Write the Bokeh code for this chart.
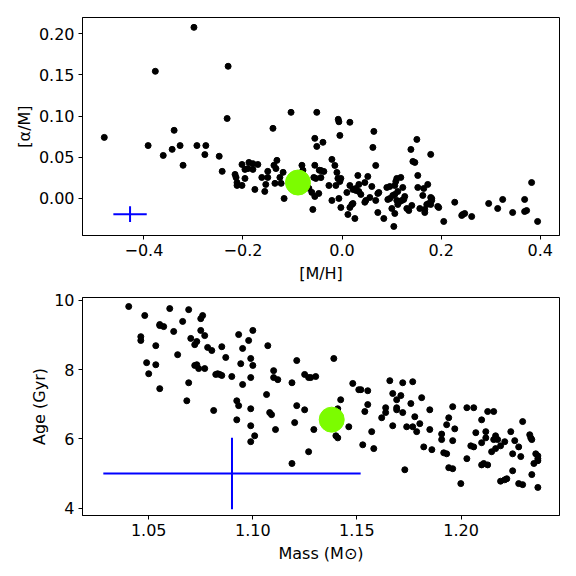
from bokeh.plotting import figure
from bokeh.layouts import column
from bokeh.models import FixedTicker, Range1d
from bokeh.embed import file_html
from bokeh.resources import INLINE

# ---------------- data: top panel ----------------
mh = [-0.480, -0.299, -0.377, -0.230, -0.232, -0.339, -0.3915, -0.361, -0.343, -0.327,
      -0.321, -0.293, -0.275, -0.277, -0.248, -0.242, -0.1395, -0.103, -0.051, -0.055,
      -0.051, -0.216, -0.214, -0.212, -0.212, -0.202, -0.202, -0.196, -0.196, -0.190,
      -0.188, -0.180, -0.180, -0.170, -0.176, -0.162, -0.156, -0.154, -0.150, -0.150,
      -0.1375, -0.1335, -0.1315, -0.1355, -0.1255, -0.123, -0.119, -0.117, -0.081, -0.079,
      -0.059, -0.055, -0.055, -0.061, -0.047, -0.057, -0.053, -0.046, -0.067,
      -0.0077, -0.0064, 0.0158, -0.0386, -0.0044, 0.0642, 0.0622, 0.151, 0.139, 0.179,
      0.143, 0.147, 0.068, -0.0205, -0.0145, -0.0104, -0.0427, -0.0367, -0.0427, -0.0084,
      -0.0024, -0.0044, 0.0319, 0.052, 0.046, -0.0265, -0.0125, 0.0158, 0.0339, 0.0601,
      -0.0205, -0.0064, -0.0024, 0.0118, 0.0259, 0.0158, 0.0198, 0.022, 0.0097, 0.022,
      0.028, 0.0339, 0.038, 0.028, 0.048, 0.046, 0.0561, 0.0722, 0.0743, 0.068,
      0.0722, 0.0843, 0.0904, 0.0964, 0.0924, 0.0964, 0.1024, 0.1065, 0.1125, 0.1085,
      0.1105, 0.1186, 0.1226, 0.1065, 0.1005, 0.1065, 0.1045, 0.1105, 0.1166, 0.1206,
      0.1266, 0.1246, 0.1125, 0.1307, 0.1347, 0.1408, 0.1529, 0.1529, 0.157, 0.163,
      0.165, 0.173, 0.167, 0.167, 0.171, 0.175, 0.179, 0.181, 0.179, 0.181,
      0.1932, 0.1952, 0.2053, 0.2275, 0.2416, 0.2436, 0.2476, 0.2617, 0.296, 0.3142,
      0.3243, 0.3444, 0.3686, 0.3686, 0.3726, 0.3827, 0.3948]
alpha_m = [0.074, 0.208, 0.1545, 0.1606, 0.097, 0.0826, 0.064, 0.052, 0.0594, 0.064,
           0.040, 0.064, 0.064, 0.053, 0.051, 0.0326, 0.085, 0.1045, 0.1045, 0.0728,
           0.063, 0.0289, 0.0252, 0.019, 0.0155, 0.0155, 0.041, 0.035, 0.024, 0.036,
           0.0435, 0.042, 0.035, 0.041, 0.0106, 0.0252, 0.0082, 0.0167, 0.0252, 0.0326,
           0.040, 0.036, 0.046, 0.018, 0.0252, 0.018, 0.0314, -0.0004, 0.040, 0.034,
           -0.0138, 0.040, 0.002, 0.007, 0.0057, 0.0252, 0.024, 0.034, 0.012,
           0.096, 0.093, 0.0924, 0.068, 0.0764, 0.0813, 0.0618, 0.0715, 0.0593, 0.0533,
           0.0447, 0.0435, 0.0398, 0.0472, 0.0398, 0.0313, 0.0337, 0.0325, 0.025, 0.024,
           0.024, 0.0203, 0.0276, 0.0264, 0.019, 0.0154, 0.0154, 0.0154, 0.0167, 0.0142,
           -0.0028, -0.0004, -0.0114, -0.0199, -0.0248, -0.0114, -0.0077, -0.0065, 0.0069, 0.0106,
           0.0094, 0.0081, 0.0045, 0.0118, -0.0028, -0.005, 0.0008, 0.0057, 0.0069, -0.0028,
           -0.0175, -0.0248, 0.013, 0.0142, -0.0016, -0.0004, 0.0033, 0.0045, 0.0081, 0.0203,
           0.024, 0.0252, 0.013, 0.0154, -0.0126, -0.0187, -0.0345, -0.0028, -0.004, -0.0028,
           0.002, -0.0016, -0.0077, -0.0126, -0.0151, -0.0089, 0.0276, 0.013, -0.0126, 0.0033,
           0.0118, 0.0167, -0.0138, -0.0175, -0.0077, -0.0065, 0.0008, -0.0004, -0.0077, -0.0028,
           -0.0101, -0.0114, -0.0284, -0.005, -0.0211, -0.0199, -0.0187, -0.0224, -0.0065, -0.0126,
           -0.0016, -0.0175, -0.0016, -0.0163, -0.0151, 0.019, -0.0284]

sun_mh = [-0.089]
sun_am = [0.019]
err1_x = [-0.428]
err1_y = [-0.0195]
err1_xerr = [0.0337]
err1_yerr = [0.0095]

# ---------------- data: bottom panel ----------------
mass = [1.0404, 1.0481, 1.0601, 1.0692, 1.0663, 1.075, 1.0759, 1.0553, 1.0553, 1.0572,
        1.062, 1.075, 1.0769, 1.0462, 1.0462, 1.0534, 1.0702, 1.0731, 1.0721, 1.0783,
        1.0803, 1.0851, 1.0639, 1.087, 1.049, 1.0534, 1.05, 1.0553, 1.0721, 1.0731,
        1.074, 1.0769, 1.0692, 1.0683, 1.0822, 1.0831, 1.0841, 1.0851, 1.0899, 1.0812,
        1.0932, 1.10, 1.098, 1.0951, 1.1072, 1.099, 1.0942, 1.10, 1.099, 1.0951,
        1.1211, 1.11, 1.11, 1.112, 1.1188, 1.1249, 1.1268, 1.1278, 1.1302, 1.1066,
        1.0923, 1.0932, 1.099, 1.1081, 1.109, 1.1211, 1.1249, 1.0923, 1.099, 1.1009,
        1.099, 1.1109, 1.1201, 1.1293, 1.1268, 1.1188,
        1.1389, 1.1422, 1.1408, 1.1399, 1.1408, 1.1461, 1.148, 1.1509, 1.1519, 1.1552,
        1.1552, 1.1538, 1.1571, 1.1528, 1.1581, 1.1658, 1.172, 1.1768, 1.1672, 1.1711,
        1.1691, 1.1691, 1.1691, 1.1638, 1.1638, 1.1619, 1.172, 1.1759, 1.1811, 1.1778,
        1.1802, 1.1672, 1.1739, 1.1768, 1.1787, 1.185, 1.185, 1.1821, 1.186, 1.173,
        1.196, 1.1941, 1.1931, 1.197, 1.1907, 1.1907, 1.196, 1.1917, 1.1931, 1.1941,
        1.196, 1.1999, 1.2028, 1.2061, 1.2128, 1.2157, 1.2099, 1.2071, 1.2119, 1.2119,
        1.2099, 1.2047, 1.2061, 1.2028, 1.2099, 1.2109, 1.2128, 1.2147, 1.2166, 1.219,
        1.2166, 1.2157, 1.2176, 1.221, 1.2239, 1.2258, 1.2277, 1.2296, 1.2248, 1.2287,
        1.2248, 1.219, 1.221, 1.222, 1.2277, 1.2296, 1.233, 1.2335, 1.234, 1.234,
        1.235, 1.2359, 1.2369, 1.2369, 1.2369, 1.2369]
age = [9.82, 9.56, 9.76, 9.73, 9.39, 9.47, 9.56, 9.30, 9.27, 9.24,
       9.10, 9.13, 8.98, 8.95, 8.84, 8.69, 8.90, 8.81, 8.72, 8.64,
       8.55, 8.66, 8.43, 8.35, 8.20, 8.14, 7.88, 7.45, 8.12, 8.14,
       8.03, 8.03, 7.62, 7.10, 7.86, 7.88, 7.86, 7.83, 7.80, 6.82,
       9.01, 9.13, 8.84, 8.61, 8.69, 8.32, 8.17, 8.12, 7.77, 7.57,
       8.26, 7.97, 7.77, 7.71, 7.62, 7.86, 7.77, 7.77, 7.80, 7.28,
       7.10, 6.96, 6.87, 6.76, 6.70, 6.96, 6.84, 6.55, 6.38, 6.09,
       5.92, 6.27, 6.47, 6.27, 5.63, 5.29,
       8.32, 7.13, 6.87, 6.09, 6.03, 6.35, 7.60, 7.42, 7.42, 7.39,
       6.99, 6.79, 6.21, 5.83, 5.72, 7.68, 7.62, 7.65, 7.31, 7.25,
       7.13, 6.90, 6.84, 6.90, 6.76, 6.61, 6.76, 7.02, 7.19, 6.64,
       6.44, 6.38, 6.35, 6.35, 6.21, 6.84, 6.27, 5.77, 5.69, 5.11,
       6.93, 6.61, 6.41, 6.29, 6.14, 5.98, 5.95, 5.60, 5.57, 5.17,
       5.14, 4.71, 6.90, 6.90, 6.79, 6.79, 6.55, 6.18, 6.21, 6.03,
       5.89, 5.80, 5.77, 5.43, 5.25, 5.29, 5.25, 5.63, 5.72, 5.80,
       6.09, 5.98, 5.98, 5.92, 6.21, 5.95, 5.77, 6.50, 5.57, 5.49,
       5.08, 4.78, 4.82, 4.85, 4.71, 4.68, 6.12, 6.03, 5.98, 4.97,
       5.29, 5.57, 5.51, 5.43, 5.37, 4.60]

sun_mass = [1.1379]
sun_age = [6.555]
err2_x = [1.090]
err2_y = [5.0]
err2_xerr = [0.0618]
err2_yerr = [1.03]

top_xticks = [-0.4, -0.2, 0.0, 0.2, 0.4]
top_xlabels = ["\u22120.4", "\u22120.2", "0.0", "0.2", "0.4"]
top_yticks = [0.0, 0.05, 0.10, 0.15, 0.20]
top_ylabels = ["0.00", "0.05", "0.10", "0.15", "0.20"]
bot_xticks = [1.05, 1.10, 1.15, 1.20]
bot_xlabels = ["1.05", "1.10", "1.15", "1.20"]
bot_yticks = [4, 6, 8, 10]
bot_ylabels = ["4", "6", "8", "10"]

FONT = "DejaVu Sans"


def make_fig(height, xr, yr, top_border, bottom_border):
    p = figure(width=568, height=height, output_backend="svg", toolbar_location=None,
               x_range=Range1d(*xr), y_range=Range1d(*yr),
               min_border_left=82, min_border_right=9, min_border_top=top_border,
               min_border_bottom=bottom_border)
    p.grid.visible = False
    p.outline_line_color = "black"
    p.outline_line_width = 1
    p.background_fill_color = "white"
    p.border_fill_color = "white"
    for ax in (p.xaxis[0], p.yaxis[0]):
        ax.major_tick_out = 4
        ax.major_tick_in = 0
        ax.minor_tick_out = 0
        ax.minor_tick_in = 0
        ax.major_tick_line_color = "black"
        ax.axis_line_color = "black"
        ax.major_label_text_font = FONT
        ax.major_label_text_font_size = "16px"
        ax.major_label_text_color = "black"
        ax.axis_label_text_font = FONT
        ax.axis_label_text_font_size = "16px"
        ax.axis_label_text_font_style = "normal"
        ax.axis_label_text_color = "black"
        ax.major_label_standoff = 4
    p.xaxis[0].axis_label_standoff = 5
    p.yaxis[0].axis_label_standoff = 2
    return p


def set_ticks(axis, ticks, labels):
    axis.ticker = FixedTicker(ticks=ticks)
    axis.major_label_overrides = {t: l for t, l in zip(ticks, labels)}


# ---------------- top figure ----------------
p1 = make_fig(288, (-0.524, 0.439), (-0.0455, 0.220), 17, 53)
set_ticks(p1.xaxis[0], top_xticks, top_xlabels)
set_ticks(p1.yaxis[0], top_yticks, top_ylabels)
p1.xaxis.axis_label = "[M/H]"
p1.yaxis.axis_label = "[\u03b1/M]"
p1.scatter(mh, alpha_m, size=6, color="black")
p1.scatter(sun_mh, sun_am, size=25, color="#7CFC00")
p1.segment(x0=[x - e for x, e in zip(err1_x, err1_xerr)], y0=err1_y,
           x1=[x + e for x, e in zip(err1_x, err1_xerr)], y1=err1_y,
           line_color="#0000FF", line_width=2)
p1.segment(x0=err1_x, y0=[y - e for y, e in zip(err1_y, err1_yerr)],
           x1=err1_x, y1=[y + e for y, e in zip(err1_y, err1_yerr)],
           line_color="#0000FF", line_width=2)

# ---------------- bottom figure ----------------
p2 = make_fig(277, (1.0182, 1.2473), (3.79, 10.08), 9, 50)
set_ticks(p2.xaxis[0], bot_xticks, bot_xlabels)
set_ticks(p2.yaxis[0], bot_yticks, bot_ylabels)
p2.xaxis.axis_label = "Mass (M\u2299)"
p2.yaxis.axis_label = "Age (Gyr)"
p2.scatter(mass, age, size=6, color="black")
p2.scatter(sun_mass, sun_age, size=25, color="#7CFC00")
p2.segment(x0=[x - e for x, e in zip(err2_x, err2_xerr)], y0=err2_y,
           x1=[x + e for x, e in zip(err2_x, err2_xerr)], y1=err2_y,
           line_color="#0000FF", line_width=2)
p2.segment(x0=err2_x, y0=[y - e for y, e in zip(err2_y, err2_yerr)],
           x1=err2_x, y1=[y + e for y, e in zip(err2_y, err2_yerr)],
           line_color="#0000FF", line_width=2)

layout = column(p1, p2, spacing=0)
open("out.html", "w").write(file_html(layout, INLINE))
